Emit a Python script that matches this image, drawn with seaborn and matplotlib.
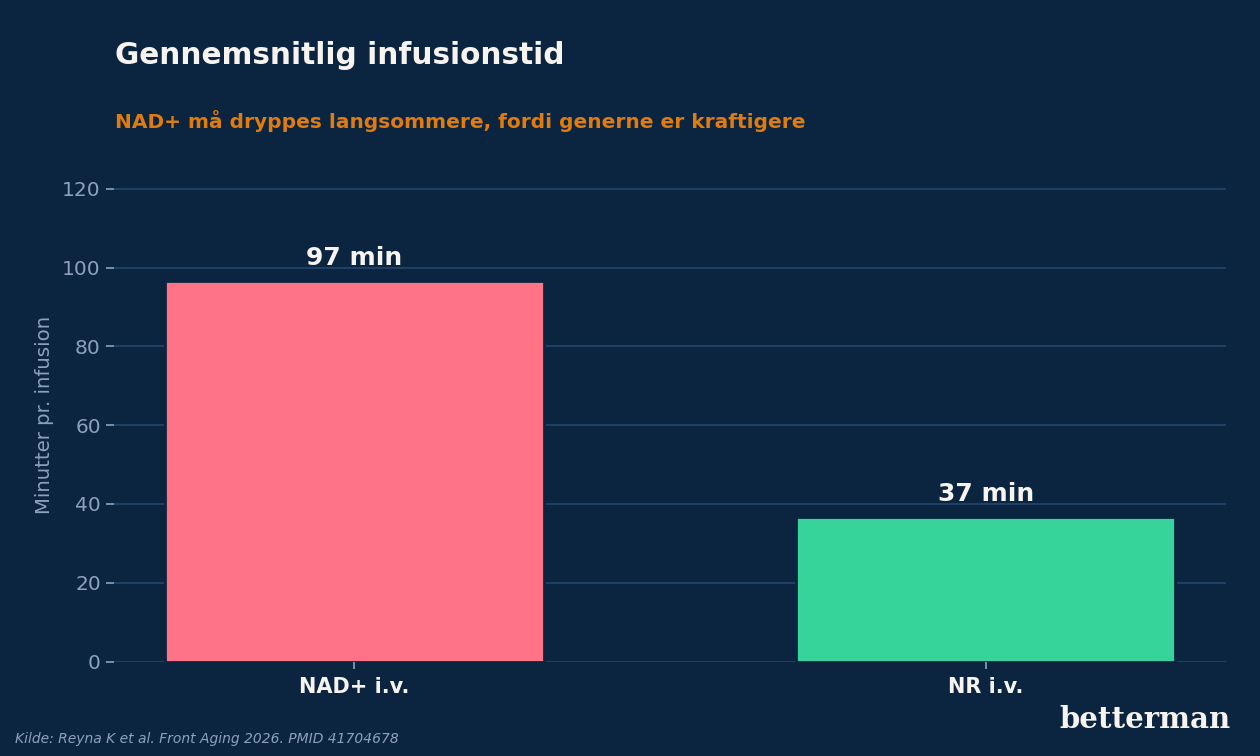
import matplotlib
matplotlib.use("Agg")
import matplotlib.pyplot as plt
import seaborn as sns
import pandas as pd

categories = ["NAD+ i.v.", "NR i.v."]
minutes = [96.6, 36.6]
value_labels = ["97 min", "37 min"]
bar_colors = ["#ff7387", "#36d39b"]
yticks = [0, 20, 40, 60, 80, 100, 120]

BG = "#0b2541"
GRID = "#1f4068"
MUTED = "#8fa1ba"
WHITE = "#f7f4ef"
ORANGE = "#e07b10"

sns.set_theme(style="white")
plt.rcParams["font.family"] = ["DejaVu Sans"]

df = pd.DataFrame({"kategori": categories, "minutter": minutes})

fig = plt.figure(figsize=(12.6, 7.56), dpi=100, facecolor=BG)
ax = fig.add_axes([114/1260, 1 - 661.5/756, (1226-114)/1260, (661.5-169)/756])
ax.set_facecolor(BG)

sns.barplot(data=df, x="kategori", y="minutter", hue="kategori",
            palette=bar_colors, saturation=1, width=0.6, ax=ax, legend=False,
            edgecolor=BG, linewidth=2, zorder=3)

ax.set_ylim(0, 125)
ax.set_xlim(-0.38, 1.38)
ax.set_yticks(yticks)
ax.yaxis.grid(True, color=GRID, linewidth=1.4, zorder=0)
ax.set_axisbelow(True)
for s in ax.spines.values():
    s.set_visible(False)

ax.tick_params(axis="y", colors=MUTED, labelsize=14.5, length=6, width=1.2, direction="out", left=True)
ax.tick_params(axis="x", colors=MUTED, length=5, width=1.2, direction="out", bottom=True, pad=6)
for lbl in ax.get_xticklabels():
    lbl.set_color(WHITE)
    lbl.set_fontweight("bold")
    lbl.set_fontsize(15)

ax.set_xlabel("")
ax.set_ylabel("Minutter pr. infusion", color=MUTED, fontsize=14.2, labelpad=6)

for i, (v, t) in enumerate(zip(minutes, value_labels)):
    ax.annotate(t, (i, v), xytext=(0, 8), textcoords="offset points",
                ha="center", va="bottom", color=WHITE, fontsize=18, fontweight="bold")

fig.text(115/1260, 1 - 55/756, "Gennemsnitlig infusionstid", color=WHITE,
         fontsize=21.3, fontweight="bold", va="center", ha="left")
fig.text(115/1260, 1 - 121/756, "NAD+ må dryppes langsommere, fordi generne er kraftigere",
         color=ORANGE, fontsize=14.5, fontweight="bold", va="center", ha="left")
fig.text(15/1260, 1 - 739/756, "Kilde: Reyna K et al. Front Aging 2026. PMID 41704678",
         color=MUTED, fontsize=10, style="italic", va="center", ha="left")
fig.text(1231/1260, 1 - 719/756, "betterman", color=WHITE, fontsize=21,
         fontweight="heavy", family=["DejaVu Serif"], va="center", ha="right")

fig.savefig("out.png", dpi=100, facecolor=BG)
